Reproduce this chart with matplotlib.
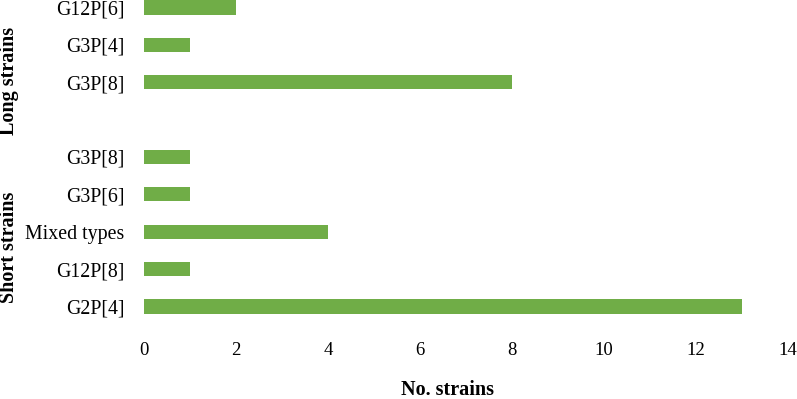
import matplotlib
matplotlib.use("Agg")
import matplotlib.pyplot as plt

# Data (bottom to top)
short_labels = ["G2P[4]", "G12P[8]", "Mixed types", "G3P[6]", "G3P[8]"]
short_values = [13, 1, 4, 1, 1]
long_labels = ["G3P[8]", "G3P[4]", "G12P[6]"]
long_values = [8, 1, 2]
group_names = ["Short strains", "Long strains"]
xticks = [0, 2, 4, 6, 8, 10, 12, 14]

plt.rcParams['font.family'] = ['Liberation Serif', 'DejaVu Serif']

fig = plt.figure(figsize=(7.97, 3.99), dpi=100)
ax = fig.add_axes([0.1807, 0.185, 0.808, 0.815])

short_pos = list(range(len(short_labels)))
long_pos = [len(short_labels) + 1 + i for i in range(len(long_labels))]
color = "#70AD47"
ax.barh(short_pos, short_values, height=0.38, color=color)
ax.barh(long_pos, long_values, height=0.38, color=color)

ax.set_yticks(short_pos + long_pos)
ax.set_yticklabels(short_labels + long_labels, fontsize=14.3)
ax.set_xticks(xticks)
ax.set_xticklabels([str(t) for t in xticks], fontsize=13.5)
ax.set_xlim(0, 14)
ax.set_ylim(-0.5, 8.2)
ax.tick_params(axis='both', length=0)
ax.tick_params(axis='y', pad=14)
ax.tick_params(axis='x', pad=12)
for s in ax.spines.values():
    s.set_visible(False)

# x-axis title
fig.text(0.561, 0.022, "No. strains", fontsize=14.5, fontweight='bold',
         ha='center', va='center')

# group labels
fig.text(0.0113, 0.381, group_names[0], rotation=90, fontsize=14.5,
         fontweight='bold', ha='center', va='center')
fig.text(0.0113, 0.797, group_names[1], rotation=90, fontsize=14.5,
         fontweight='bold', ha='center', va='center')

fig.savefig("out.png", dpi=100)
